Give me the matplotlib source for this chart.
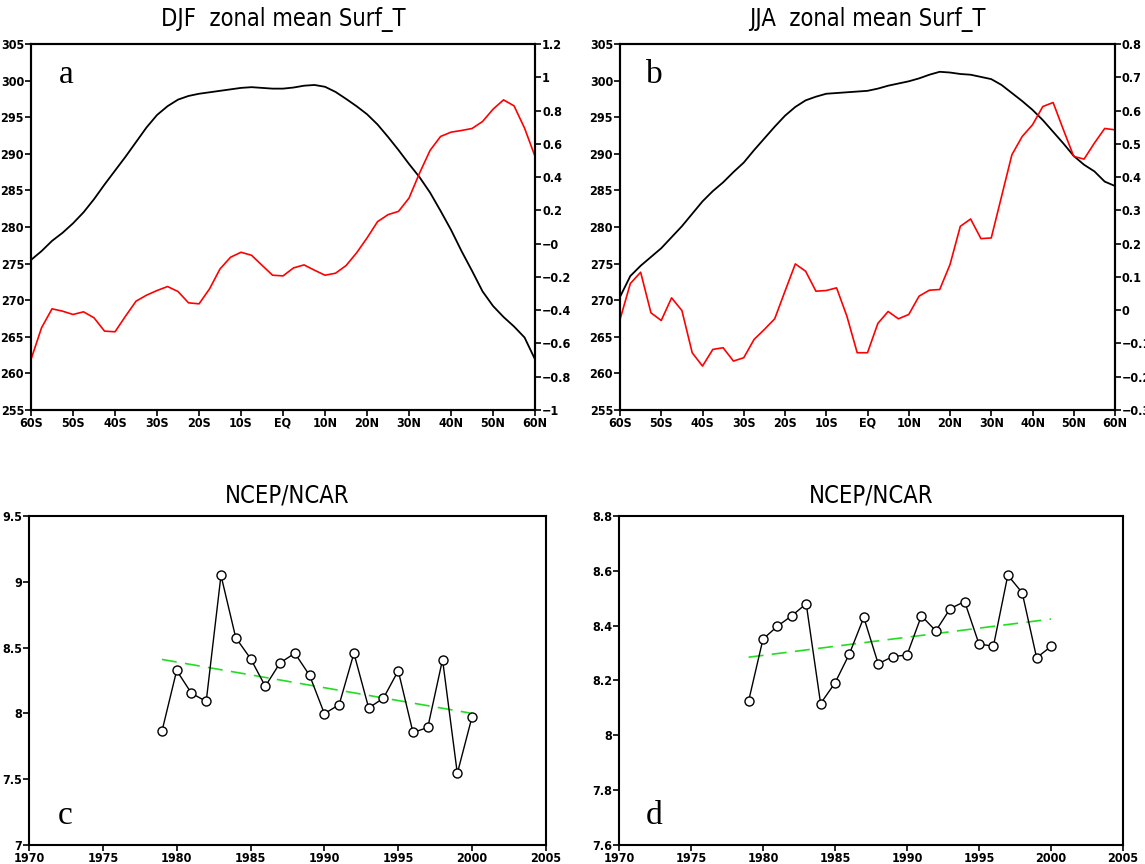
import matplotlib
matplotlib.use("Agg")
import matplotlib.pyplot as plt
from matplotlib import font_manager
import numpy as np

# ---- data ----
lat = np.arange(-60, 60.1, 2.5)

djf_t = [275.5, 276.7, 278.1, 279.2, 280.5, 282.0, 283.8, 285.8, 287.7, 289.6,
         291.6, 293.6, 295.3, 296.5, 297.4, 297.9, 298.2, 298.4, 298.6, 298.8,
         299.0, 299.1, 299.0, 298.9, 298.9, 299.05, 299.3, 299.4, 299.15, 298.45,
         297.5, 296.5, 295.4, 294.0, 292.3, 290.5, 288.6, 286.8, 284.7, 282.2,
         279.6, 276.7, 274.0, 271.2, 269.2, 267.7, 266.4, 264.9, 261.9]
djf_trend = [-0.696, -0.506, -0.392, -0.406, -0.426, -0.41, -0.446, -0.526, -0.53, -0.436,
             -0.346, -0.31, -0.282, -0.258, -0.288, -0.356, -0.362, -0.272, -0.152, -0.082,
             -0.052, -0.07, -0.13, -0.19, -0.194, -0.146, -0.128, -0.16, -0.19, -0.178,
             -0.132, -0.056, 0.034, 0.132, 0.174, 0.194, 0.274, 0.424, 0.56, 0.644,
             0.67, 0.68, 0.692, 0.734, 0.808, 0.864, 0.828, 0.694, 0.524]

jja_t = [270.45, 273.3, 274.7, 275.9, 277.1, 278.6, 280.1, 281.8, 283.5, 284.9,
         286.1, 287.5, 288.8, 290.5, 292.1, 293.7, 295.2, 296.4, 297.3, 297.8,
         298.2, 298.3, 298.4, 298.5, 298.6, 298.9, 299.3, 299.6, 299.9, 300.3,
         300.8, 301.2, 301.1, 300.9, 300.8, 300.5, 300.2, 299.4, 298.3, 297.2,
         296.0, 294.6, 293.0, 291.4, 289.7, 288.5, 287.6, 286.2, 285.6]
jja_trend = [-0.028, 0.08, 0.114, -0.008, -0.031, 0.037, -0.001, -0.128, -0.168, -0.118,
             -0.113, -0.153, -0.143, -0.088, -0.058, -0.026, 0.057, 0.139, 0.117, 0.057,
             0.059, 0.067, -0.018, -0.128, -0.128, -0.04, -0.004, -0.026, -0.013, 0.042,
             0.06, 0.062, 0.137, 0.252, 0.274, 0.215, 0.217, 0.342, 0.467, 0.522,
             0.557, 0.612, 0.624, 0.542, 0.462, 0.454, 0.502, 0.546, 0.542]

years = np.arange(1979, 2001)
series_c = [7.863, 8.326, 8.153, 8.091, 9.049, 8.575, 8.417, 8.206, 8.384, 8.457, 8.289,
            7.998, 8.066, 8.457, 8.041, 8.116, 8.324, 7.855, 7.893, 8.409, 7.544, 7.975]
series_d = [8.125, 8.351, 8.398, 8.436, 8.480, 8.116, 8.191, 8.297, 8.430, 8.261, 8.287,
            8.293, 8.436, 8.381, 8.462, 8.488, 8.333, 8.325, 8.584, 8.520, 8.283, 8.324]
trend_years = [1979, 2000]
trend_c = [8.41, 8.0]
trend_d = [8.285, 8.424]

lat_ticks = np.arange(-60, 61, 10)
lat_labels = ['60S', '50S', '40S', '30S', '20S', '10S', 'EQ',
              '10N', '20N', '30N', '40N', '50N', '60N']


def pick(names):
    have = {f.name for f in font_manager.fontManager.ttflist}
    for n in names:
        if n in have:
            return n
    return 'DejaVu Sans'


tick_font = pick(['Liberation Sans Narrow', 'DejaVu Sans'])
title_font = pick(['DejaVu Sans'])
letter_font = pick(['Liberation Serif', 'DejaVu Serif'])

plt.rcParams['font.family'] = tick_font
plt.rcParams['axes.linewidth'] = 1.5

fig = plt.figure(figsize=(11.45, 8.64), dpi=100)


def style(ax):
    ax.tick_params(direction='out', length=4, width=1.2, labelsize=9, pad=1)
    for lab in ax.get_xticklabels() + ax.get_yticklabels():
        lab.set_fontweight('bold')
        lab.set_fontstretch('condensed')


def fmt(v):
    s = f"{v:g}"
    return s.replace('-', '\u2212')


def top_panel(rect, temp, trend, rticks, letter, title):
    ax = fig.add_axes(rect)
    ax.plot(lat, temp, color='black', lw=1.3)
    ax.set_xlim(-60, 60)
    ax.set_ylim(255, 305)
    ax.set_xticks(lat_ticks)
    ax.set_xticklabels(lat_labels)
    yt = np.arange(255, 306, 5)
    ax.set_yticks(yt)
    ax.set_yticklabels([fmt(v) for v in yt])
    style(ax)
    ax2 = ax.twinx()
    ax2.plot(lat, trend, color='red', lw=1.2)
    ax2.set_ylim(rticks[0], rticks[-1])
    ax2.set_yticks(rticks)
    ax2.set_yticklabels([fmt(round(v, 2)) for v in rticks])
    style(ax2)
    ax.text(0.07, 0.915, letter, transform=ax.transAxes, fontsize=24,
            family=letter_font, ha='center', va='center')
    x0 = rect[0] + rect[2] / 2
    fig.text(x0, 0.977, title, ha='center', va='center', fontsize=17,
             family=title_font, fontweight='light', fontstretch='condensed')
    return ax


def bottom_panel(rect, series, trend, yticks, letter):
    ax = fig.add_axes(rect)
    ax.plot(trend_years, trend, color='#22dd22', lw=1.2, dashes=(9, 5))
    ax.plot(years, series, color='black', lw=1.0, marker='o', ms=6.5,
            mfc='white', mec='black', mew=1.0)
    ax.set_xlim(1970, 2005)
    ax.set_ylim(yticks[0], yticks[-1])
    ax.set_xticks(np.arange(1970, 2006, 5))
    ax.set_yticks(yticks)
    ax.set_yticklabels([fmt(round(v, 2)) for v in yticks])
    style(ax)
    ax.text(0.07, 0.09, letter, transform=ax.transAxes, fontsize=24,
            family=letter_font, ha='center', va='center')
    x0 = rect[0] + rect[2] / 2
    fig.text(x0, 0.427, 'NCEP/NCAR', ha='center', va='center', fontsize=17,
             family=title_font, fontweight='light', fontstretch='condensed')
    return ax


top_panel([0.0271, 0.5255, 0.4402, 0.4236], djf_t, djf_trend,
          np.arange(-1.0, 1.21, 0.2), 'a', 'DJF  zonal mean Surf_T')
top_panel([0.5415, 0.5255, 0.4323, 0.4236], jja_t, jja_trend,
          np.arange(-0.3, 0.81, 0.1), 'b', 'JJA  zonal mean Surf_T')
bottom_panel([0.0253, 0.022, 0.4515, 0.3808], series_c, trend_c,
             np.arange(7.0, 9.51, 0.5), 'c')
bottom_panel([0.5406, 0.022, 0.4402, 0.3808], series_d, trend_d,
             np.arange(7.6, 8.81, 0.2), 'd')

fig.savefig('out.png', dpi=100)
